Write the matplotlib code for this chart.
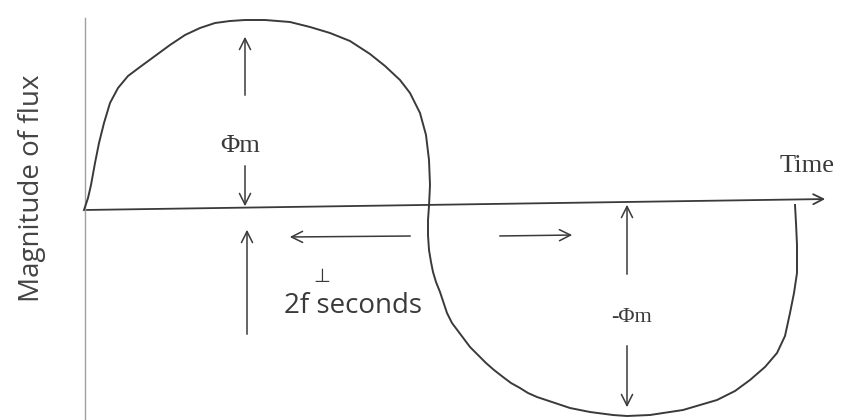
import matplotlib
matplotlib.use("Agg")
import matplotlib.pyplot as plt

# flux curve (pixel coords, y grows downward)
pos_x = [84, 88, 91, 95, 99, 104, 110, 118, 128, 140, 155, 170, 185, 200, 215, 230, 245, 265, 290,
         310, 330, 350, 370, 385, 400, 410, 420, 426, 429, 430, 429]
pos_y = [210, 198, 185, 163, 143, 123, 103, 88, 76, 67, 56, 45, 35, 28, 23, 21, 20, 20, 22,
         27, 33, 41, 54, 66, 80, 93, 113, 135, 160, 185, 206]
neg_x = [429, 428, 428, 429, 431, 433, 436, 440, 447, 452, 458, 464, 470, 478, 486, 494, 503, 511,
         520, 528, 537, 555, 570, 590, 613, 627, 650, 683, 717, 735, 750, 765, 777, 785, 790, 794,
         797, 797, 796, 795]
neg_y = [206, 220, 235, 250, 262, 272, 282, 292, 313, 323, 331, 339, 347, 355, 363, 370, 377, 383,
         388, 393, 397, 403, 408, 412, 415, 416, 415, 410, 400, 391, 380, 367, 353, 336, 313, 293,
         273, 245, 223, 205]

# axes of the sketch
time_axis_x = [84, 828]
time_axis_y = [210, 199]
flux_axis_x = [85, 85]
flux_axis_y = [18, 420]

# annotation arrows: (tail, head)
arrows = [((245, 98), (245, 34)),
          ((245, 163), (245, 209)),
          ((247, 337), (247, 227)),
          ((413, 236), (287, 237)),
          ((497, 236), (575, 235)),
          ((627, 277), (627, 202)),
          ((627, 343), (627, 410))]

ink = "#3a3a3a"

fig = plt.figure(figsize=(8.41, 4.20), dpi=100)
ax = fig.add_axes([0, 0, 1, 1])
ax.set_xlim(0, 841)
ax.set_ylim(420, 0)
ax.axis("off")

ax.plot(flux_axis_x, flux_axis_y, color="#a0a0a0", lw=1.0)
ax.plot(pos_x, pos_y, color=ink, lw=1.4)
ax.plot(neg_x, neg_y, color=ink, lw=1.4)
ax.annotate("", xy=(time_axis_x[1], time_axis_y[1]), xytext=(time_axis_x[0], time_axis_y[0]),
            arrowprops=dict(arrowstyle="->", color=ink, lw=1.3, mutation_scale=18))

for tail, head in arrows:
    ax.annotate("", xy=head, xytext=tail,
                arrowprops=dict(arrowstyle="->", color=ink, lw=1.1, mutation_scale=20))

ax.text(32, 188, "Magnitude of flux", rotation=90, ha="center", va="center",
        fontsize=20, family="Open Sans", color="#444444")
ax.text(240, 146, "Φm", ha="center", va="center", fontsize=19, family="Liberation Serif", color=ink)
ax.text(632, 318, "-Φm", ha="center", va="center", fontsize=16, family="Liberation Serif", color=ink)
ax.text(807, 166, "Time", ha="center", va="center", fontsize=19, family="Liberation Serif", color=ink)
ax.text(284, 306, "2f seconds", ha="left", va="center", fontsize=20, family="Open Sans", color=ink)
ax.text(322, 277, "⊥", ha="center", va="center", fontsize=14, family="DejaVu Sans", color=ink)

fig.savefig("out.png", dpi=100, facecolor="white")
